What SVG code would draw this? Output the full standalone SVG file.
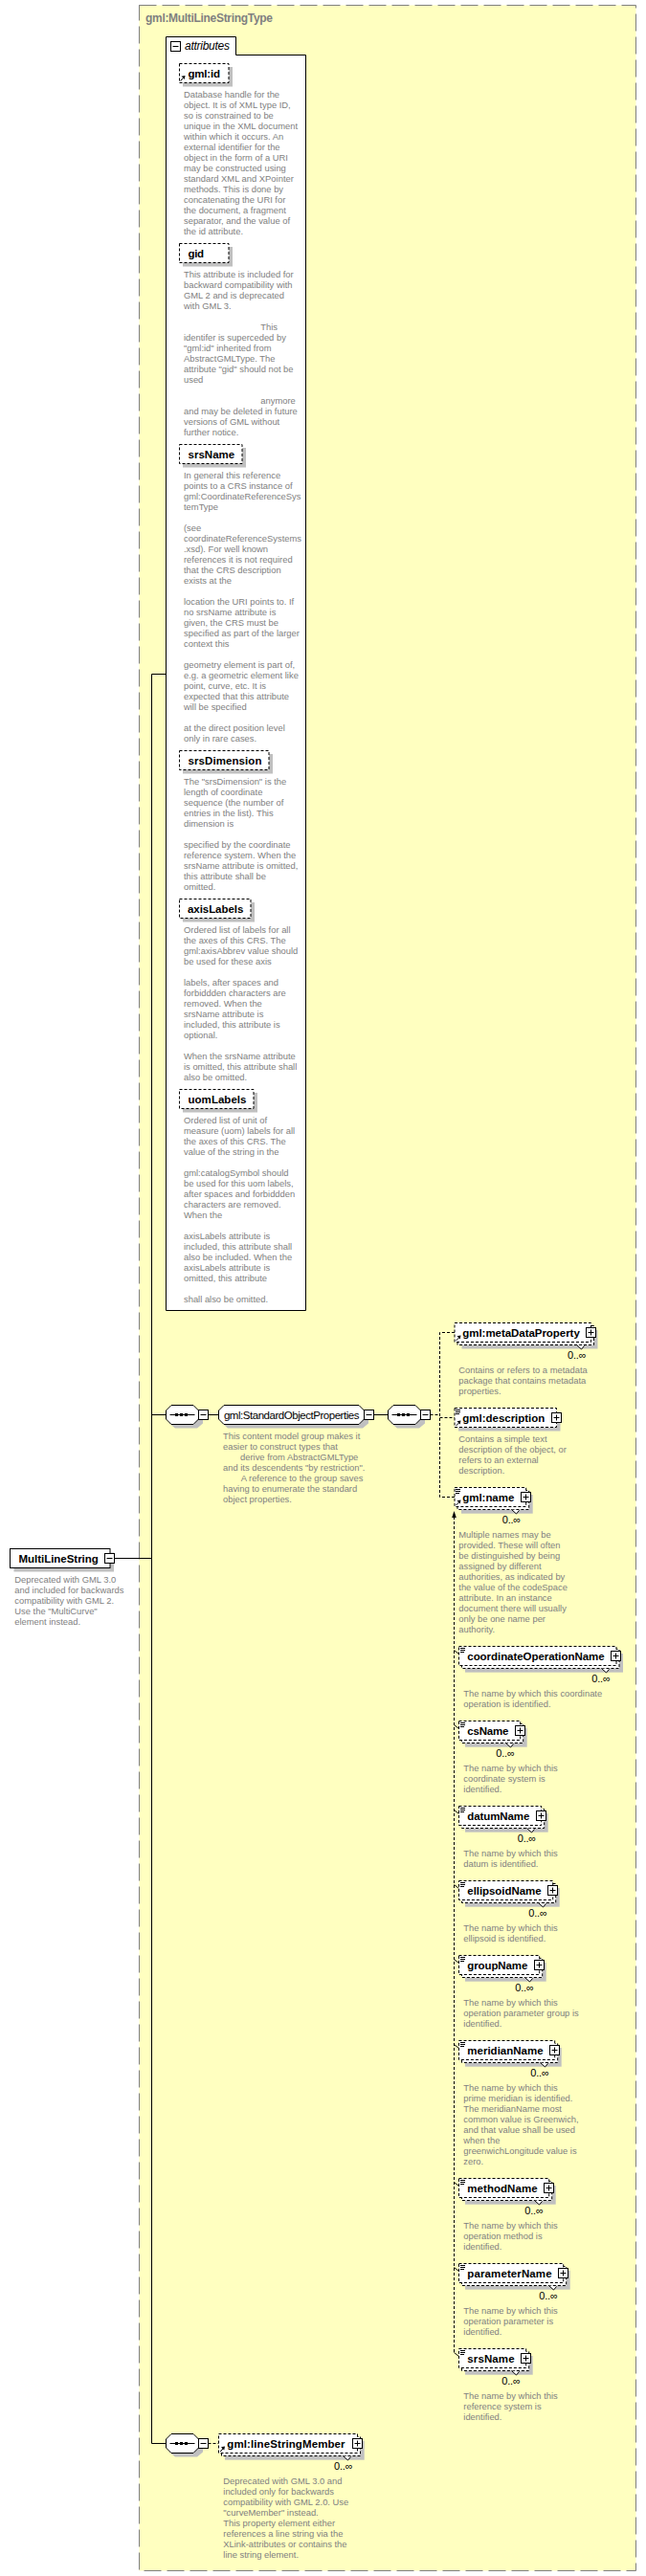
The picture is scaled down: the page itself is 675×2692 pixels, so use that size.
<svg xmlns="http://www.w3.org/2000/svg" xmlns:xlink="http://www.w3.org/1999/xlink" width="675" height="2692" viewBox="0 0 675 2692">
<style>
text{font-family:"Liberation Sans",Arial,sans-serif}
.d{font-size:9.4px;fill:#808080}
.b{font-size:11.5px;font-weight:bold;fill:#000}
.m{font-size:11px;fill:#000}
.sh{fill:#c0c0c0}
.da{fill:#fff;stroke:#000;stroke-width:1;stroke-dasharray:3 2}
.so{fill:#fff;stroke:#000;stroke-width:1}
.c{fill:none;stroke:#000;stroke-width:1}
.cd{fill:none;stroke:#000;stroke-width:1;stroke-dasharray:3 2}
</style>
<defs>
<g id="plus"><rect class="so" x="0.5" y="0.5" width="10" height="10"/><path class="c" d="M2.5 5.5h6M5.5 2.5v6"/></g>
<g id="minus"><rect class="so" x="0.5" y="0.5" width="10" height="10"/><path class="c" d="M2.5 5.5h6"/></g>
<path id="bars" class="c" d="M0 1.5h5M0 3.5h5M0 5.5h4"/>
<g id="ref"><path class="c" d="M1.5 18.5L4.5 15.5"/><path d="M6.5 13L2.5 13.7L5.7 17Z" fill="#000"/></g>
<path id="notch" d="M-9.5 23L-4.5 27.5L-1.5 24" fill="#fff" stroke="#000"/>
<g id="seq">
<path class="sh" d="M10 4.5H33L39 10.5V19.500L33 24.500H10L4 19.500V10.500Z"/>
<path class="so" d="M6 0.5H29L34.500 6V15L29 20.500H6L0.500 15V6Z"/>
<path class="c" d="M4.500 10.500H30.500"/>
<path d="M10 9h3v3h-3zM15 9h3v3h-3zM20 9h3v3h-3z" fill="#000"/>
<use href="#minus" x="34" y="5"/>
</g>
</defs>
<g id="type-box">
<rect x="145.500" y="5.500" width="519" height="2681" fill="#ffffc0" stroke="#808080" stroke-dasharray="18 6"/>
<text x="152" y="23" font-size="12" font-weight="bold" fill="#808080" textLength="133">gml:MultiLineStringType</text>
</g>
<g id="connectors">
<path class="c" d="M119.500 1628.500H158.500M158.500 704.500V2553.500H173.500M158.500 704.500H174M158.500 1478.500H173.500M218 1478.500H228.500M390.500 1478.500H405.500"/>
<path class="cd" d="M449.500 1478.500H459.500M475 1392.500H459.500V1564.500H475M459.500 1481.500H475M217.500 2553.500H228.500"/>
<path class="cd" d="M474.500 1585V2458.500"/>
<path d="M474.500 1579L476.800 1586H472.200Z" fill="#000"/>
<path class="c" d="M474.500 1724.500L479.500 1728.500M474.500 1802.500L479.500 1806.500M474.500 1891.500L479.500 1895.500M474.500 1969.500L479.500 1973.500M474.500 2047.500L479.500 2051.500M474.500 2136.500L479.500 2140.500M474.500 2280.500L479.500 2284.500M474.500 2369.500L479.500 2373.500M474.500 2458.500L479.500 2462.500"/>
</g>
<g id="root-MultiLineString">
<rect class="sh" x="14.500" y="1622.500" width="104.500" height="20"/>
<rect class="so" x="10.500" y="1618.500" width="104.500" height="20"/>
<text class="b" x="19.500" y="1633" textLength="83.300">MultiLineString</text>
<use href="#minus" x="109" y="1623"/>
<text class="d" x="15.300" y="1654"><tspan x="15.300">Deprecated with GML 3.0</tspan><tspan x="15.300" dy="11">and included for backwards</tspan><tspan x="15.300" dy="11">compatibility with GML 2.</tspan><tspan x="15.300" dy="11">Use the "MultiCurve"</tspan><tspan x="15.300" dy="11">element instead.</tspan></text>
</g>
<g id="attributes">
<path class="so" d="M173.500 38.500H246.500V57.500H319.500V1369.500H173.500Z" stroke-width="1"/>
<use href="#minus" x="178" y="43"/>
<text x="193" y="52" font-size="12" font-style="italic" fill="#000" textLength="47">attributes</text>
</g>
<g id="attr-gml-id">
<rect class="sh" x="191" y="70" width="52" height="20.500"/>
<rect class="da" x="187.500" y="66.500" width="51.500" height="20"/>
<use href="#ref" x="187" y="66"/>
<text class="b" x="196.500" y="81" textLength="33.500">gml:id</text>
<text class="d" y="102"><tspan x="192">Database handle for the</tspan><tspan x="192" dy="11">object.  It is of XML type ID,</tspan><tspan x="192" dy="11">so is constrained to be</tspan><tspan x="192" dy="11">unique in the XML document</tspan><tspan x="192" dy="11">within which it occurs.  An</tspan><tspan x="192" dy="11">external identifier for the</tspan><tspan x="192" dy="11">object in the form of a URI</tspan><tspan x="192" dy="11">may be constructed using</tspan><tspan x="192" dy="11">standard XML and XPointer</tspan><tspan x="192" dy="11">methods.  This is done by</tspan><tspan x="192" dy="11">concatenating the URI for</tspan><tspan x="192" dy="11">the document, a fragment</tspan><tspan x="192" dy="11">separator, and the value of</tspan><tspan x="192" dy="11">the id attribute.</tspan></text>
</g>
<g id="attr-gid">
<rect class="sh" x="191" y="258" width="52" height="20.500"/>
<rect class="da" x="187.500" y="254.500" width="51.500" height="20"/>
<text class="b" x="196.500" y="269" textLength="16.500">gid</text>
<text class="d" y="290"><tspan x="192">This attribute is included for</tspan><tspan x="192" dy="11">backward compatibility with</tspan><tspan x="192" dy="11">GML 2 and is deprecated</tspan><tspan x="192" dy="11">with GML 3.</tspan><tspan x="272.300" dy="22">This</tspan><tspan x="192" dy="11">identifer is superceded by</tspan><tspan x="192" dy="11">"gml:id" inherited from</tspan><tspan x="192" dy="11">AbstractGMLType. The</tspan><tspan x="192" dy="11">attribute "gid" should not be</tspan><tspan x="192" dy="11">used</tspan><tspan x="272.300" dy="22">anymore</tspan><tspan x="192" dy="11">and may be deleted in future</tspan><tspan x="192" dy="11">versions of GML without</tspan><tspan x="192" dy="11">further notice.</tspan></text>
</g>
<g id="attr-srsName">
<rect class="sh" x="191" y="468" width="66" height="20.500"/>
<rect class="da" x="187.500" y="464.500" width="65.500" height="20"/>
<text class="b" x="196.500" y="479" textLength="48.700">srsName</text>
<text class="d" y="500"><tspan x="192">In general this reference</tspan><tspan x="192" dy="11">points to a CRS instance of</tspan><tspan x="192" dy="11">gml:CoordinateReferenceSys</tspan><tspan x="192" dy="11">temType</tspan><tspan x="192" dy="22">(see</tspan><tspan x="192" dy="11">coordinateReferenceSystems</tspan><tspan x="192" dy="11">.xsd). For well known</tspan><tspan x="192" dy="11">references it is not required</tspan><tspan x="192" dy="11">that the CRS description</tspan><tspan x="192" dy="11">exists at the</tspan><tspan x="192" dy="22">location the URI points to. If</tspan><tspan x="192" dy="11">no srsName attribute is</tspan><tspan x="192" dy="11">given, the CRS must be</tspan><tspan x="192" dy="11">specified as part of the larger</tspan><tspan x="192" dy="11">context this</tspan><tspan x="192" dy="22">geometry element is part of,</tspan><tspan x="192" dy="11">e.g. a geometric element like</tspan><tspan x="192" dy="11">point, curve, etc. It is</tspan><tspan x="192" dy="11">expected that this attribute</tspan><tspan x="192" dy="11">will be specified</tspan><tspan x="192" dy="22">at the direct position level</tspan><tspan x="192" dy="11">only in rare cases.</tspan></text>
</g>
<g id="attr-srsDimension">
<rect class="sh" x="191" y="788" width="94" height="20.500"/>
<rect class="da" x="187.500" y="784.500" width="93.500" height="20"/>
<text class="b" x="196.500" y="799" textLength="77">srsDimension</text>
<text class="d" y="820"><tspan x="192">The "srsDimension" is the</tspan><tspan x="192" dy="11">length of coordinate</tspan><tspan x="192" dy="11">sequence (the number of</tspan><tspan x="192" dy="11">entries in the list). This</tspan><tspan x="192" dy="11">dimension is</tspan><tspan x="192" dy="22">specified by the coordinate</tspan><tspan x="192" dy="11">reference system. When the</tspan><tspan x="192" dy="11">srsName attribute is omitted,</tspan><tspan x="192" dy="11">this attribute shall be</tspan><tspan x="192" dy="11">omitted.</tspan></text>
</g>
<g id="attr-axisLabels">
<rect class="sh" x="191" y="943" width="75" height="20.500"/>
<rect class="da" x="187.500" y="939.500" width="74.500" height="20"/>
<text class="b" x="196" y="954" textLength="58.300">axisLabels</text>
<text class="d" y="975"><tspan x="192">Ordered list of labels for all</tspan><tspan x="192" dy="11">the axes of this CRS. The</tspan><tspan x="192" dy="11">gml:axisAbbrev value should</tspan><tspan x="192" dy="11">be used for these axis</tspan><tspan x="192" dy="22">labels, after spaces and</tspan><tspan x="192" dy="11">forbiddden characters are</tspan><tspan x="192" dy="11">removed. When the</tspan><tspan x="192" dy="11">srsName attribute is</tspan><tspan x="192" dy="11">included, this attribute is</tspan><tspan x="192" dy="11">optional.</tspan><tspan x="192" dy="22">When the srsName attribute</tspan><tspan x="192" dy="11">is omitted, this attribute shall</tspan><tspan x="192" dy="11">also be omitted.</tspan></text>
</g>
<g id="attr-uomLabels">
<rect class="sh" x="191" y="1142" width="78" height="20.500"/>
<rect class="da" x="187.500" y="1138.500" width="77.500" height="20"/>
<text class="b" x="196.500" y="1153" textLength="61">uomLabels</text>
<text class="d" y="1174"><tspan x="192">Ordered list of unit of</tspan><tspan x="192" dy="11">measure (uom) labels for all</tspan><tspan x="192" dy="11">the axes of this CRS. The</tspan><tspan x="192" dy="11">value of the string in the</tspan><tspan x="192" dy="22">gml:catalogSymbol should</tspan><tspan x="192" dy="11">be used for this uom labels,</tspan><tspan x="192" dy="11">after spaces and forbiddden</tspan><tspan x="192" dy="11">characters are removed.</tspan><tspan x="192" dy="11">When the</tspan><tspan x="192" dy="22">axisLabels attribute is</tspan><tspan x="192" dy="11">included, this attribute shall</tspan><tspan x="192" dy="11">also be included. When the</tspan><tspan x="192" dy="11">axisLabels attribute is</tspan><tspan x="192" dy="11">omitted, this attribute</tspan><tspan x="192" dy="22">shall also be omitted.</tspan></text>
</g>
<g id="seq-1"><use href="#seq" x="173" y="1468"/></g>
<g id="group-StandardObjectProperties">
<path class="sh" d="M238 1472.500H379L385 1478.500V1487.500L379 1492.500H238L232.500 1487.500V1478.500Z"/>
<path class="so" d="M234 1468.500H375L380.500 1474V1483L375 1488.500H234L228.500 1483V1474Z"/>
<text x="233.900" y="1483" font-size="11.500" fill="#000" textLength="141.600">gml:StandardObjectProperties</text>
<use href="#minus" x="380" y="1473"/>
<text class="d" y="1504"><tspan x="233">This content model group makes it</tspan><tspan x="233" dy="11">easier to construct types that</tspan><tspan x="251" dy="11">derive from AbstractGMLType</tspan><tspan x="233" dy="11">and its descendents "by restriction".</tspan><tspan x="251.700" dy="11">A reference to the group saves</tspan><tspan x="233" dy="11">having to enumerate the standard</tspan><tspan x="233" dy="11">object properties.</tspan></text>
</g>
<g id="seq-2"><use href="#seq" x="405" y="1468"/></g>
<g id="seq-3"><use href="#seq" x="173" y="2543"/></g>
<g id="el-metaDataProperty">
<rect class="sh" x="482.500" y="1390" width="142" height="19.500"/>
<rect class="da" x="478" y="1385.500" width="142.500" height="20"/>
<rect class="da" x="475" y="1382.500" width="142.500" height="20"/>
<use href="#ref" x="475" y="1382.500"/>
<text class="b" x="483.300" y="1397" textLength="122.500">gml:metaDataProperty</text>
<use href="#plus" x="612" y="1387"/>
<use href="#notch" x="612" y="1382.500"/>
<text class="m" x="593" y="1419.500" textLength="19.500">0..∞</text>
<text class="d" y="1435"><tspan x="479.300">Contains or refers to a metadata</tspan><tspan x="479.300" dy="11">package that contains metadata</tspan><tspan x="479.300" dy="11">properties.</tspan></text>
</g>
<g id="el-description">
<rect class="sh" x="479" y="1475.500" width="106.500" height="20"/>
<rect class="da" x="475" y="1471.500" width="106.500" height="20"/>
<use href="#bars" x="476" y="1472"/>
<use href="#ref" x="475" y="1471.500"/>
<text class="b" x="483.300" y="1486" textLength="86">gml:description</text>
<use href="#plus" x="576" y="1476"/>
<text class="d" y="1507"><tspan x="479.300">Contains a simple text</tspan><tspan x="479.300" dy="11">description of the object, or</tspan><tspan x="479.300" dy="11">refers to an external</tspan><tspan x="479.300" dy="11">description.</tspan></text>
</g>
<g id="el-name">
<rect class="sh" x="482" y="1562" width="74.700" height="19.700"/>
<rect class="da" x="478" y="1557.500" width="74.700" height="20"/>
<rect class="da" x="475" y="1554.500" width="74.700" height="20"/>
<use href="#bars" x="476" y="1555"/>
<use href="#ref" x="475" y="1554.500"/>
<text class="b" x="483.300" y="1569" textLength="54">gml:name</text>
<use href="#plus" x="544" y="1559"/>
<use href="#notch" x="544" y="1554.500"/>
<text class="m" x="524.700" y="1591.500" textLength="19.500">0..∞</text>
<text class="d" y="1607"><tspan x="479.300">Multiple names may be</tspan><tspan x="479.300" dy="11">provided.  These will often</tspan><tspan x="479.300" dy="11">be distinguished by being</tspan><tspan x="479.300" dy="11">assigned by different</tspan><tspan x="479.300" dy="11">authorities, as indicated by</tspan><tspan x="479.300" dy="11">the value of the codeSpace</tspan><tspan x="479.300" dy="11">attribute.  In an instance</tspan><tspan x="479.300" dy="11">document there will usually</tspan><tspan x="479.300" dy="11">only be one name per</tspan><tspan x="479.300" dy="11">authority.</tspan></text>
</g>
<g id="el-coordinateOperationName">
<rect class="sh" x="486" y="1728" width="165" height="19.700"/>
<rect class="da" x="482.500" y="1723.500" width="164.500" height="20"/>
<rect class="da" x="479.500" y="1720.500" width="164.500" height="20"/>
<use href="#bars" x="481" y="1721"/>
<text class="b" x="488.300" y="1735" textLength="143.300">coordinateOperationName</text>
<use href="#plus" x="638" y="1725"/>
<use href="#notch" x="638" y="1720.500"/>
<text class="m" x="618.300" y="1757.500" textLength="19.500">0..∞</text>
<text class="d" y="1773"><tspan x="484.300">The name by which this coordinate</tspan><tspan x="484.300" dy="11">operation is identified.</tspan></text>
</g>
<g id="el-csName">
<rect class="sh" x="486" y="1806" width="64.700" height="19.700"/>
<rect class="da" x="482.500" y="1801.500" width="64.200" height="20"/>
<rect class="da" x="479.500" y="1798.500" width="64.200" height="20"/>
<use href="#bars" x="481" y="1799"/>
<text class="b" x="488.300" y="1813" textLength="43">csName</text>
<use href="#plus" x="538" y="1803"/>
<use href="#notch" x="538" y="1798.500"/>
<text class="m" x="518.300" y="1835.500" textLength="19.500">0..∞</text>
<text class="d" y="1851"><tspan x="484.300">The name by which this</tspan><tspan x="484.300" dy="11">coordinate system is</tspan><tspan x="484.300" dy="11">identified.</tspan></text>
</g>
<g id="el-datumName">
<rect class="sh" x="486" y="1895" width="86.700" height="19.700"/>
<rect class="da" x="482.500" y="1890.500" width="86.200" height="20"/>
<rect class="da" x="479.500" y="1887.500" width="86.200" height="20"/>
<use href="#bars" x="481" y="1888"/>
<text class="b" x="488.300" y="1902" textLength="65">datumName</text>
<use href="#plus" x="560" y="1892"/>
<use href="#notch" x="560" y="1887.500"/>
<text class="m" x="540.700" y="1924.500" textLength="19.500">0..∞</text>
<text class="d" y="1940"><tspan x="484.300">The name by which this</tspan><tspan x="484.300" dy="11">datum is identified.</tspan></text>
</g>
<g id="el-ellipsoidName">
<rect class="sh" x="486" y="1973" width="98.700" height="19.700"/>
<rect class="da" x="482.500" y="1968.500" width="98.200" height="20"/>
<rect class="da" x="479.500" y="1965.500" width="98.200" height="20"/>
<use href="#bars" x="481" y="1966"/>
<text class="b" x="488.300" y="1980" textLength="77.300">ellipsoidName</text>
<use href="#plus" x="572" y="1970"/>
<use href="#notch" x="572" y="1965.500"/>
<text class="m" x="552.300" y="2002.500" textLength="19.500">0..∞</text>
<text class="d" y="2018"><tspan x="484.300">The name by which this</tspan><tspan x="484.300" dy="11">ellipsoid is identified.</tspan></text>
</g>
<g id="el-groupName">
<rect class="sh" x="486" y="2051" width="84.700" height="19.700"/>
<rect class="da" x="482.500" y="2046.500" width="84.200" height="20"/>
<rect class="da" x="479.500" y="2043.500" width="84.200" height="20"/>
<use href="#bars" x="481" y="2044"/>
<text class="b" x="488.300" y="2058" textLength="63">groupName</text>
<use href="#plus" x="558" y="2048"/>
<use href="#notch" x="558" y="2043.500"/>
<text class="m" x="538.300" y="2080.500" textLength="19.500">0..∞</text>
<text class="d" y="2096"><tspan x="484.300">The name by which this</tspan><tspan x="484.300" dy="11">operation parameter group is</tspan><tspan x="484.300" dy="11">identified.</tspan></text>
</g>
<g id="el-meridianName">
<rect class="sh" x="486" y="2140" width="100.700" height="19.700"/>
<rect class="da" x="482.500" y="2135.500" width="100.200" height="20"/>
<rect class="da" x="479.500" y="2132.500" width="100.200" height="20"/>
<use href="#bars" x="481" y="2133"/>
<text class="b" x="488.300" y="2147" textLength="79.300">meridianName</text>
<use href="#plus" x="574" y="2137"/>
<use href="#notch" x="574" y="2132.500"/>
<text class="m" x="554.300" y="2169.500" textLength="19.500">0..∞</text>
<text class="d" y="2185"><tspan x="484.300">The name by which this</tspan><tspan x="484.300" dy="11">prime meridian is identified.</tspan><tspan x="484.300" dy="11">The meridianName most</tspan><tspan x="484.300" dy="11">common value is Greenwich,</tspan><tspan x="484.300" dy="11">and that value shall be used</tspan><tspan x="484.300" dy="11">when the</tspan><tspan x="484.300" dy="11">greenwichLongitude value is</tspan><tspan x="484.300" dy="11">zero.</tspan></text>
</g>
<g id="el-methodName">
<rect class="sh" x="486" y="2284" width="94.700" height="19.700"/>
<rect class="da" x="482.500" y="2279.500" width="94.200" height="20"/>
<rect class="da" x="479.500" y="2276.500" width="94.200" height="20"/>
<use href="#bars" x="481" y="2277"/>
<text class="b" x="488.300" y="2291" textLength="73.300">methodName</text>
<use href="#plus" x="568" y="2281"/>
<use href="#notch" x="568" y="2276.500"/>
<text class="m" x="548.300" y="2313.500" textLength="19.500">0..∞</text>
<text class="d" y="2329"><tspan x="484.300">The name by which this</tspan><tspan x="484.300" dy="11">operation method is</tspan><tspan x="484.300" dy="11">identified.</tspan></text>
</g>
<g id="el-parameterName">
<rect class="sh" x="486" y="2373" width="109.700" height="19.700"/>
<rect class="da" x="482.500" y="2368.500" width="109.200" height="20"/>
<rect class="da" x="479.500" y="2365.500" width="109.200" height="20"/>
<use href="#bars" x="481" y="2366"/>
<text class="b" x="488.300" y="2380" textLength="88.300">parameterName</text>
<use href="#plus" x="583" y="2370"/>
<use href="#notch" x="583" y="2365.500"/>
<text class="m" x="563.300" y="2402.500" textLength="19.500">0..∞</text>
<text class="d" y="2418"><tspan x="484.300">The name by which this</tspan><tspan x="484.300" dy="11">operation parameter is</tspan><tspan x="484.300" dy="11">identified.</tspan></text>
</g>
<g id="el-srsName">
<rect class="sh" x="486" y="2462" width="70.700" height="19.700"/>
<rect class="da" x="482.500" y="2457.500" width="70.200" height="20"/>
<rect class="da" x="479.500" y="2454.500" width="70.200" height="20"/>
<use href="#bars" x="481" y="2455"/>
<text class="b" x="488.300" y="2469" textLength="49.300">srsName</text>
<use href="#plus" x="544" y="2459"/>
<use href="#notch" x="544" y="2454.500"/>
<text class="m" x="524.300" y="2491.500" textLength="19.500">0..∞</text>
<text class="d" y="2507"><tspan x="484.300">The name by which this</tspan><tspan x="484.300" dy="11">reference system is</tspan><tspan x="484.300" dy="11">identified.</tspan></text>
</g>
<g id="el-lineStringMember">
<rect class="sh" x="235" y="2551" width="145.700" height="19.700"/>
<rect class="da" x="231.500" y="2546.500" width="145" height="20"/>
<rect class="da" x="228.500" y="2543.500" width="145" height="20"/>
<use href="#ref" x="228.500" y="2543.500"/>
<text class="b" x="237.300" y="2558" textLength="123.300">gml:lineStringMember</text>
<use href="#plus" x="368" y="2548"/>
<use href="#notch" x="368" y="2543.500"/>
<text class="m" x="349" y="2580.500" textLength="19.500">0..∞</text>
<text class="d" y="2596"><tspan x="233.300">Deprecated with GML 3.0 and</tspan><tspan x="233.300" dy="11">included only for backwards</tspan><tspan x="233.300" dy="11">compatibility with GML 2.0. Use</tspan><tspan x="233.300" dy="11">"curveMember" instead.</tspan><tspan x="233.300" dy="11">This property element either</tspan><tspan x="233.300" dy="11">references a line string via the</tspan><tspan x="233.300" dy="11">XLink-attributes or contains the</tspan><tspan x="233.300" dy="11">line string element.</tspan></text>
</g>
</svg>
